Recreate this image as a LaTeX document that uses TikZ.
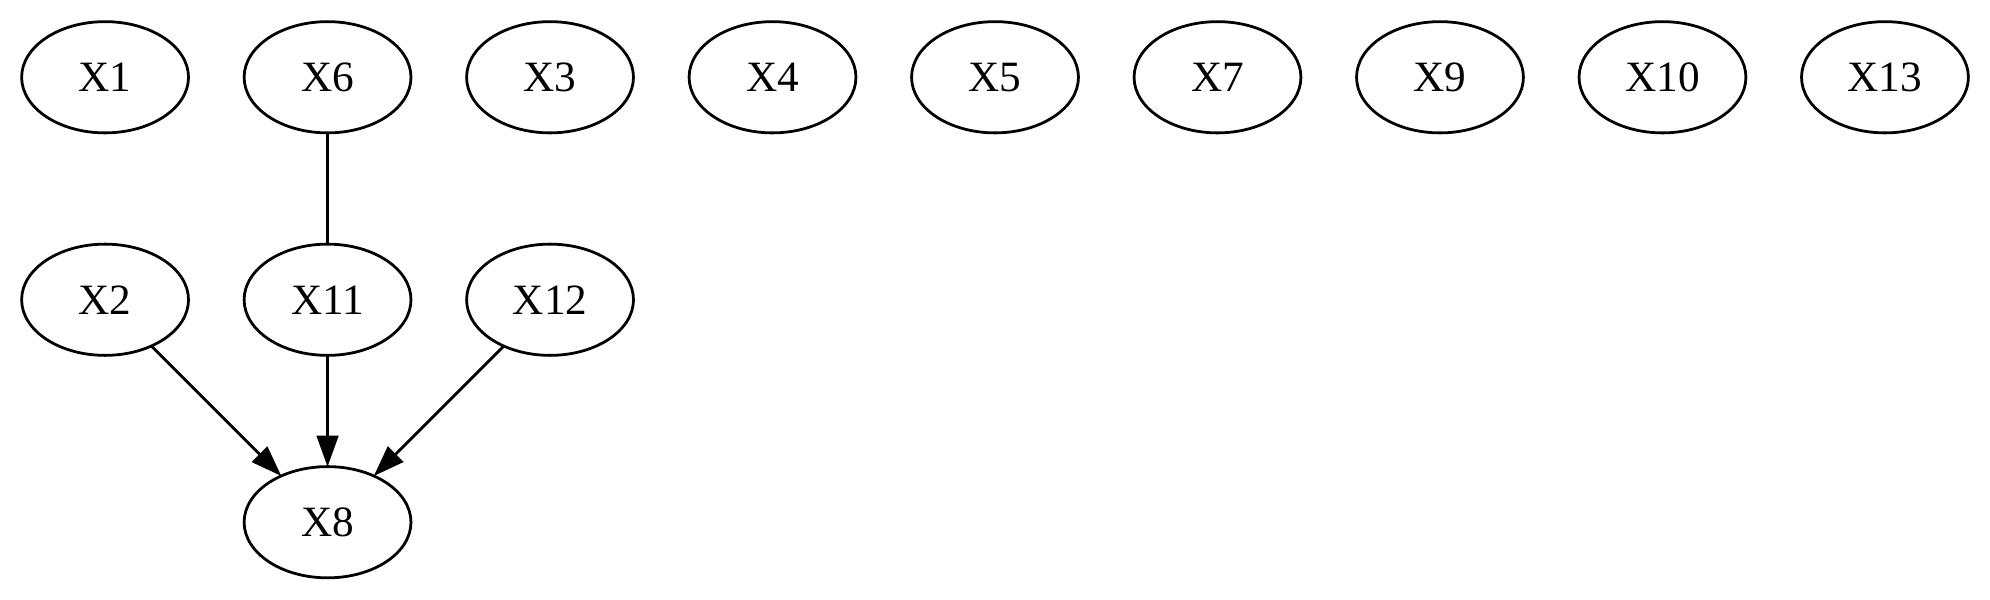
\documentclass[tikz,border=0pt]{standalone}
\usepackage{fontspec}
\setmainfont{Liberation Serif}
\usetikzlibrary{positioning,shapes.geometric,arrows.meta}
\begin{document}
\begin{tikzpicture}[auto, line width=0.9pt]
        \tikzstyle{every node} = [align=center, draw, ellipse, inner sep=0pt, outer sep=0pt, minimum width=54pt, minimum height=36pt, font=\fontsize{14}{16}\selectfont]
        \tikzstyle{dir} = [-{Triangle[length=10pt,width=7pt]}]
        \useasboundingbox (0,0) rectangle (644pt,194pt);
        \node(x1) at (34pt,169pt){X1};
        \node[right=18pt of x1](x6){X6};
        \node[right=18pt of x6](x3){X3};
        \node[right=18pt of x3](x4){X4};
        \node[right=18pt of x4](x5){X5};
        \node[right=18pt of x5](x7){X7};
        \node[right=18pt of x7](x9){X9};
        \node[right=18pt of x9](x10){X10};
        \node[right=18pt of x10](x13){X13};
        \node[below=36pt of x6](x11){X11};
        \node[left=18pt of x11](x2){X2};
        \node[right=18pt of x11](x12){X12};
        \node[below=36pt of x11](x8){X8};

        \path (x6) edge (x11);
        \path[dir] (x2) edge (x8);
        \path[dir] (x11) edge (x8);
        \path[dir] (x12) edge (x8);
    \end{tikzpicture}
\end{document}
